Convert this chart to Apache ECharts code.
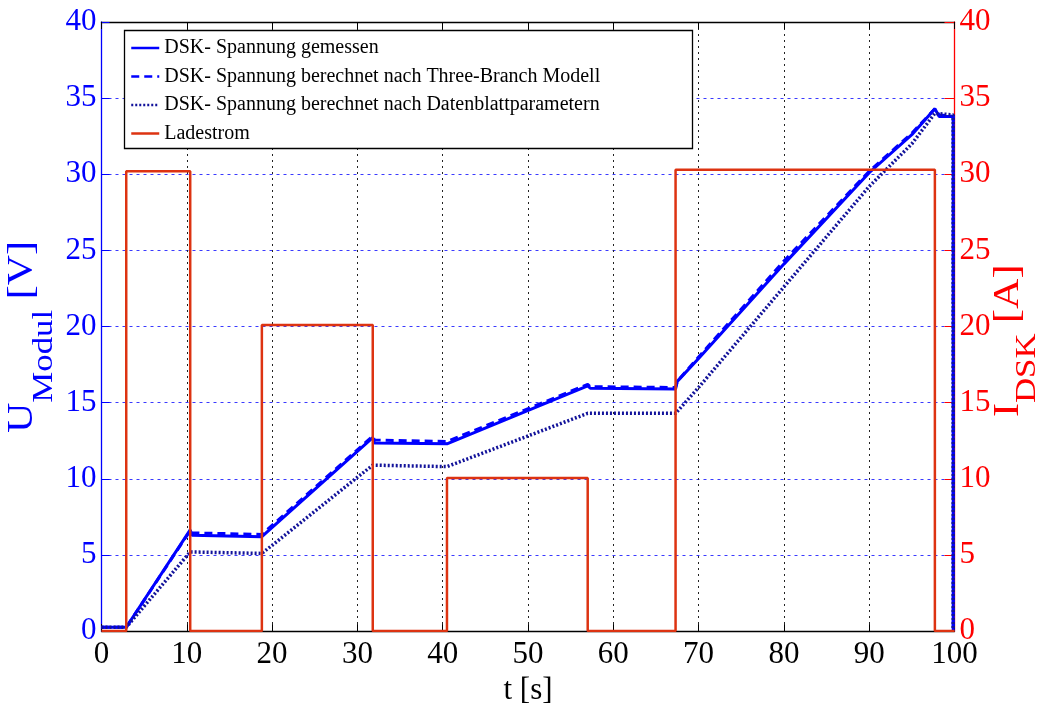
<!DOCTYPE html>
<html>
<head>
<meta charset="utf-8">
<script src="https://cdn.jsdelivr.net/npm/echarts@6/dist/echarts.min.js"></script>
<style>
  html, body { margin: 0; padding: 0; background: #fff; }
  #chart { width: 1040px; height: 711px; }
</style>
</head>
<body>
<div id="chart"></div>
<script>
// Time stamps [s] and module voltage [V]: measurement
const tMeas = [0, 2.9, 10.4, 10.6, 18.8, 31.8, 32.0, 40.5, 57.0, 57.3, 67.3, 67.5, 70, 80, 90, 95, 97.7, 98.2, 99.85, 99.85];
const uMeas = [0.25, 0.25, 6.65, 6.3, 6.2, 12.7, 12.35, 12.3, 16.1, 15.95, 15.9, 16.4, 17.9, 24.1, 30.1, 32.6, 34.3, 33.8, 33.8, 0];

// Three-Branch model
const tThree = [0, 2.9, 10.4, 10.6, 18.8, 31.8, 32.0, 40.5, 57.0, 57.3, 67.3, 67.5, 70, 80, 90, 95, 97.7, 98.2, 99.85, 99.85];
const uThree = [0.25, 0.25, 6.6, 6.45, 6.35, 12.8, 12.55, 12.45, 16.2, 16.05, 16.0, 16.4, 18.0, 24.3, 30.2, 32.7, 34.3, 33.9, 33.8, 0];

// Data sheet parameters
const tSheet = [0, 2.9, 10.4, 18.8, 31.8, 40.5, 57.0, 67.3, 70, 80, 90, 95, 97.7, 99.85, 99.85];
const uSheet = [0.25, 0.25, 5.2, 5.1, 10.9, 10.8, 14.3, 14.3, 16.0, 22.6, 29.2, 32.0, 34.0, 33.9, 0];

// Charging current [A]
const tCurr = [0, 2.9, 2.9, 10.4, 10.4, 18.8, 18.8, 31.8, 31.8, 40.5, 40.5, 57.0, 57.0, 67.3, 67.3, 97.7, 97.7, 100];
const iCurr = [0, 0, 30.2, 30.2, 0, 0, 20.1, 20.1, 0, 0, 10.05, 10.05, 0, 0, 30.3, 30.3, 0, 0];

const seriesNames = [
  'DSK- Spannung gemessen',
  'DSK- Spannung berechnet nach Three-Branch Modell',
  'DSK- Spannung berechnet nach Datenblattparametern',
  'Ladestrom'
];

// Axis titles with subscripts: [text, font size, subscript?]
const leftTitle = [['U', 35, false], ['Modul', 29, true], [' [V]', 35, false]];
const rightTitle = [['I', 35, false], ['DSK', 29, true], [' [A]', 35, false]];

const pairs = (t, v) => t.map((x, i) => [x, v[i]]);

const SERIF = 'Liberation Serif';
const BLUE = '#0000ff';
const NAVY = '#12129a';
const RED = '#dd3311';
const AXRED = '#ff0000';

// Builds a vertical (bottom-to-top) title from text runs; subscripts sit on a lowered baseline.
const measureCtx = document.createElement('canvas').getContext('2d');
function verticalTitle(runs, color, startY, baseX, subBaseX, stretch) {
  const els = [];
  let offset = 0;
  runs.forEach(([txt, size, sub]) => {
    measureCtx.font = size + 'px "' + SERIF + '"';
    const w = measureCtx.measureText(txt).width;
    const base = sub ? subBaseX : baseX;
    els.push({
      type: 'text',
      z: 10,
      x: base - 0.34 * size,
      y: startY - offset * stretch,
      rotation: Math.PI / 2,
      scaleX: stretch,
      scaleY: 1,
      style: {
        text: txt,
        fontFamily: SERIF,
        fontSize: size,
        fill: color,
        align: 'left',
        verticalAlign: 'middle'
      }
    });
    offset += w;
  });
  return els;
}

const chart = echarts.init(document.getElementById('chart'), null, { renderer: 'canvas' });

chart.setOption({
  animation: false,
  backgroundColor: '#ffffff',
  grid: { left: 101.5, right: 85.5, top: 22, bottom: 72.5, containLabel: false },
  legend: {
    orient: 'vertical',
    left: 130,
    top: 38,
    padding: 0,
    itemWidth: 28,
    itemHeight: 2,
    itemGap: 8.5,
    z: 10,
    data: seriesNames,
    itemStyle: { opacity: 0 },
    lineStyle: { width: 2.5 },
    textStyle: { fontFamily: SERIF, fontSize: 20, color: '#000', lineHeight: 20 }
  },
  graphic: [
    {
      type: 'rect',
      z: 9,
      shape: { x: 124.5, y: 30.5, width: 568, height: 118 },
      style: { fill: '#fff', stroke: '#000', lineWidth: 1.3 }
    }
  ].concat(
    verticalTitle(leftTitle, BLUE, 433, 35, 54, 1.2),
    verticalTitle(rightTitle, AXRED, 417, 1021, 1037, 1.2)
  ),
  xAxis: [
    {
      type: 'value',
      position: 'bottom',
      min: 0, max: 100, interval: 10,
      axisLine: { show: true, onZero: false, lineStyle: { color: '#000', width: 1.3 } },
      axisTick: { show: true, inside: true, length: 7, lineStyle: { color: '#000', width: 1 } },
      axisLabel: { fontFamily: SERIF, fontSize: 31, color: '#000', margin: 8 },
      splitLine: { show: true, lineStyle: { color: '#222', width: 1, type: [2, 4] } },
      name: 't [s]',
      nameLocation: 'middle',
      nameGap: 41,
      nameTextStyle: { fontFamily: SERIF, fontSize: 31, color: '#000' }
    },
    {
      type: 'value',
      position: 'top',
      min: 0, max: 100, interval: 10,
      axisLine: { show: true, onZero: false, lineStyle: { color: '#000', width: 1.3 } },
      axisTick: { show: true, inside: true, length: 7, lineStyle: { color: '#000', width: 1 } },
      axisLabel: { show: false },
      splitLine: { show: false }
    }
  ],
  yAxis: [
    {
      type: 'value',
      position: 'left',
      min: 0, max: 40, interval: 5,
      axisLine: { show: true, onZero: false, lineStyle: { color: BLUE, width: 1.3 } },
      axisTick: { show: true, inside: true, length: 8, lineStyle: { color: BLUE, width: 1 } },
      axisLabel: { fontFamily: SERIF, fontSize: 31, color: BLUE, margin: 5 },
      splitLine: { show: true, lineStyle: { color: '#3a3aff', width: 1, type: [3, 4] } }
    },
    {
      type: 'value',
      position: 'right',
      min: 0, max: 40, interval: 5,
      axisLine: { show: true, onZero: false, lineStyle: { color: AXRED, width: 1.3 } },
      axisTick: { show: true, inside: true, length: 10, lineStyle: { color: AXRED, width: 1 } },
      axisLabel: { fontFamily: SERIF, fontSize: 31, color: AXRED, margin: 5 },
      splitLine: { show: false }
    }
  ],
  series: [
    {
      name: seriesNames[0],
      type: 'line',
      xAxisIndex: 0, yAxisIndex: 0,
      data: pairs(tMeas, uMeas),
      symbol: 'none',
      color: BLUE,
      lineStyle: { color: BLUE, width: 3 },
      z: 3
    },
    {
      name: seriesNames[1],
      type: 'line',
      xAxisIndex: 0, yAxisIndex: 0,
      data: pairs(tThree, uThree),
      symbol: 'none',
      color: BLUE,
      lineStyle: { color: BLUE, width: 3, type: [8, 5] },
      z: 3
    },
    {
      name: seriesNames[2],
      type: 'line',
      xAxisIndex: 0, yAxisIndex: 0,
      data: pairs(tSheet, uSheet),
      symbol: 'none',
      color: NAVY,
      lineStyle: { color: NAVY, width: 3.5, type: [2, 2] },
      z: 3
    },
    {
      name: seriesNames[3],
      type: 'line',
      xAxisIndex: 0, yAxisIndex: 1,
      data: pairs(tCurr, iCurr),
      symbol: 'none',
      color: RED,
      lineStyle: { color: RED, width: 2.5 },
      z: 4
    }
  ]
});
</script>
</body>
</html>
